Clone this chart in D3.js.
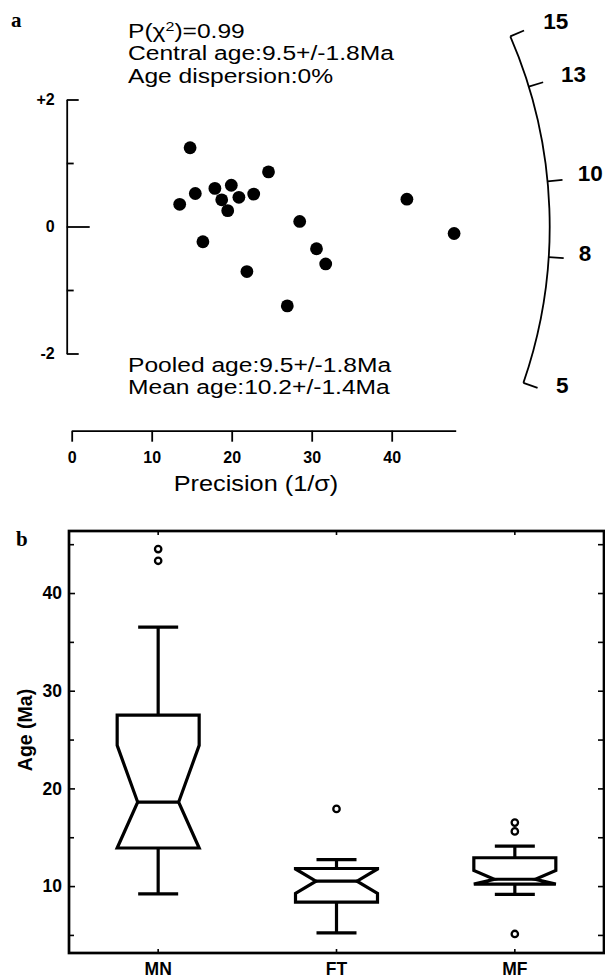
<!DOCTYPE html>
<html>
<head>
<meta charset="utf-8">
<script src="https://cdn.jsdelivr.net/npm/d3@7"></script>
<style>
  body { margin: 0; background: #fff; }
  svg { display: block; font-family: "Liberation Sans", Arial, Helvetica, sans-serif; }
</style>
</head>
<body>
<svg id="chart" width="605" height="978"></svg>
<script>
// ---- panel a : radial plot ----
const precision = [14.8, 13.5, 15.45, 16.4, 17.9, 18.75, 19.95, 19.5, 20.9, 22.75, 24.6, 21.9, 28.5, 26.95, 30.6, 31.75, 41.9, 47.8];
const zScore = [1.24, 0.35, 0.52, -0.24, 0.6, 0.42, 0.65, 0.25, 0.46, 0.51, 0.86, -0.71, 0.08, -1.25, -0.35, -0.59, 0.43, -0.11];
const precisionTicks = [0, 10, 20, 30, 40];
const zTicks = [-2, -1, 0, 1, 2];
const arcAges = [5, 8, 10, 13, 15];
const arcRefAge = 8.78;     // age of the horizontal ray
const arcSlopeK = 0.06;     // slope per sqrt(Ma)
const topText = ['Central age:9.5+/-1.8Ma', 'Age dispersion:0%'];
const bottomText = ['Pooled age:9.5+/-1.8Ma', 'Mean age:10.2+/-1.4Ma'];

// ---- panel b : notched box plots ----
const categories = ['MN', 'FT', 'MF'];
const whiskerLow = [9.2, 5.2, 9.15];
const q1 = [13.9, 8.35, 10.2];
const median = [18.6, 10.5, 10.7];
const q3 = [27.5, 11.8, 12.9];
const whiskerHigh = [36.5, 12.7, 14.1];
const notchHalf = [5.8, 1.25, 0.9];
const outliers = [[44.5, 43.3], [17.9], [16.5, 15.6, 5.1]];
const ageTicks = [10, 20, 30, 40];
const ageMinorTicks = [5, 15, 25, 35, 45];

const svg = d3.select('#chart');
const wide = 'scale(1.23,1)';   // the source font runs wider than Liberation Sans
const statSize = 20, statLead = 22.3;

// panel a
const rx = d3.scaleLinear().domain([0, 48]).range([71.7, 455.7]);
const ry = d3.scaleLinear().domain([-2, 2]).range([353.5, 99.5]);

svg.append('text')
    .attr('x', 11).attr('y', 27)
    .attr('font-family', '"Liberation Serif", "Times New Roman", serif')
    .attr('font-weight', 'bold').attr('font-size', 21)
    .text('a');

const head = svg.append('text')
    .attr('transform', 'translate(128,38) ' + wide)
    .attr('font-size', statSize);
head.append('tspan').text('P(\u03c7');
head.append('tspan').attr('font-size', 13).attr('dy', -7).text('2');
head.append('tspan').attr('dy', 7).text(')=0.99');

svg.selectAll('.top-line').data(topText).enter().append('text')
    .attr('class', 'top-line')
    .attr('transform', (d, i) => `translate(128,${38 + (i + 1) * statLead}) ${wide}`)
    .attr('font-size', statSize)
    .text(d => d);

svg.selectAll('.bottom-line').data(bottomText).enter().append('text')
    .attr('class', 'bottom-line')
    .attr('transform', (d, i) => `translate(128,${372 + i * statLead}) ${wide}`)
    .attr('font-size', statSize)
    .text(d => d);

// y axis (standardised estimate), ticks pointing right
const yAxisA = svg.append('g')
    .attr('transform', 'translate(66.7,0)')
    .call(d3.axisLeft(ry).tickValues(zTicks).tickSizeInner(-7).tickSizeOuter(0).tickPadding(12)
        .tickFormat(d => d === 2 ? '+2' : d === -2 ? '-2' : d === 0 ? '0' : ''));
yAxisA.selectAll('.tick line')
    .attr('x2', d => d === 0 ? 23 : Math.abs(d) === 2 ? 12 : 7);

// x axis (precision)
const xAxisA = svg.append('g')
    .attr('transform', 'translate(0,430.7)')
    .call(d3.axisBottom(rx).tickValues(precisionTicks).tickSizeInner(11).tickSizeOuter(0).tickPadding(10));

[yAxisA, xAxisA].forEach(g => {
    g.attr('font-family', null).attr('font-size', null);
    g.selectAll('path, line').attr('stroke', '#000').attr('stroke-width', 1.8);
    g.selectAll('text').attr('font-size', 16).attr('font-weight', 'bold').attr('fill', '#000');
});

svg.append('text')
    .attr('transform', 'translate(256,491) scale(1.15,1)')
    .attr('text-anchor', 'middle')
    .attr('font-size', 22)
    .text('Precision (1/\u03c3)');

svg.selectAll('.dot').data(precision).enter().append('circle')
    .attr('class', 'dot')
    .attr('cx', d => rx(d))
    .attr('cy', (d, i) => ry(zScore[i]))
    .attr('r', 6.4)
    .attr('fill', '#000');

// age arc
const ox = rx(0), oy = ry(0), R = 478;
const pxPerX = rx(1) - rx(0), pxPerY = ry(0) - ry(1);
function ageAngle(t) {
    const s = arcSlopeK * (Math.sqrt(t) - Math.sqrt(arcRefAge));
    return Math.atan(s * pxPerY / pxPerX);   // upward angle, radians
}
const arcPath = d3.path();
arcPath.arc(ox, oy, R, -ageAngle(d3.max(arcAges)), -ageAngle(d3.min(arcAges)), false);
svg.append('path')
    .attr('d', arcPath.toString())
    .attr('fill', 'none').attr('stroke', '#000').attr('stroke-width', 1.8);

const arcTick = svg.selectAll('.arc-tick').data(arcAges).enter().append('g').attr('class', 'arc-tick');
arcTick.append('line')
    .attr('x1', d => ox + R * Math.cos(ageAngle(d)))
    .attr('y1', d => oy - R * Math.sin(ageAngle(d)))
    .attr('x2', d => ox + (R + 15) * Math.cos(ageAngle(d)))
    .attr('y2', d => oy - (R + 15) * Math.sin(ageAngle(d)))
    .attr('stroke', '#000').attr('stroke-width', 1.8);
arcTick.append('text')
    .attr('x', d => ox + (R + 24) * Math.cos(ageAngle(d)) + 5 + 15 * Math.abs(Math.sin(ageAngle(d))))
    .attr('y', d => oy - (R + 24) * Math.sin(ageAngle(d)) - 6)
    .attr('dy', '0.36em')
    .attr('font-size', 22.5).attr('font-weight', 'bold')
    .text(d => d);

// panel b
const bx = d3.scaleBand().domain(categories).range([69, 604]);
const by = d3.scaleLinear().domain([3.15, 46.35]).range([953, 531]);
const boxHalf = 41, notchInner = 20.5, capHalf = 20;

svg.append('text')
    .attr('x', 16).attr('y', 546)
    .attr('font-family', '"Liberation Serif", "Times New Roman", serif')
    .attr('font-weight', 'bold').attr('font-size', 21)
    .text('b');

svg.append('text')
    .attr('transform', 'translate(32,730) rotate(-90)')
    .attr('text-anchor', 'middle')
    .attr('font-size', 19.5).attr('font-weight', 'bold')
    .text('Age (Ma)');

const axesB = [];
axesB.push(svg.append('g').attr('transform', 'translate(69,0)')
    .call(d3.axisLeft(by).tickValues(ageTicks).tickSizeInner(-6).tickSizeOuter(0).tickPadding(7)));
axesB.push(svg.append('g').attr('transform', 'translate(69,0)')
    .call(d3.axisLeft(by).tickValues(ageMinorTicks).tickSizeInner(-5).tickSizeOuter(0).tickFormat('')));
axesB.push(svg.append('g').attr('transform', 'translate(604,0)')
    .call(d3.axisRight(by).tickValues(ageTicks.concat(ageMinorTicks)).tickSizeInner(-6).tickSizeOuter(0).tickFormat('')));
axesB.push(svg.append('g').attr('transform', 'translate(0,953)')
    .call(d3.axisBottom(bx).tickSizeInner(-4).tickSizeOuter(0).tickPadding(10)));
axesB.push(svg.append('g').attr('transform', 'translate(0,531)')
    .call(d3.axisTop(bx).tickSizeInner(-4).tickSizeOuter(0).tickFormat('')));
axesB.forEach(g => {
    g.attr('font-family', null).attr('font-size', null);
    g.select('.domain').remove();
    g.selectAll('line').attr('stroke', '#000').attr('stroke-width', 1.6);
    g.selectAll('text').attr('font-size', 17.5).attr('font-weight', 'bold').attr('fill', '#000');
});

svg.append('rect')
    .attr('x', bx.range()[0]).attr('y', by.range()[1])
    .attr('width', bx.range()[1] - bx.range()[0])
    .attr('height', by.range()[0] - by.range()[1])
    .attr('fill', 'none').attr('stroke', '#000').attr('stroke-width', 2.7);

const boxes = svg.selectAll('.box').data(categories).enter().append('g')
    .attr('class', 'box')
    .attr('fill', 'none').attr('stroke', '#000').attr('stroke-width', 3.2)
    .attr('stroke-linejoin', 'miter');

const cxOf = d => bx(d) + bx.bandwidth() / 2;

boxes.append('path')
    .attr('d', (d, i) => {
        const c = cxOf(d);
        const nh = Math.min(median[i] + notchHalf[i], q3[i]);
        const nl = Math.max(median[i] - notchHalf[i], q1[i]);
        const p = d3.path();
        p.moveTo(c - boxHalf, by(q3[i]));
        p.lineTo(c + boxHalf, by(q3[i]));
        p.lineTo(c + boxHalf, by(nh));
        p.lineTo(c + notchInner, by(median[i]));
        p.lineTo(c + boxHalf, by(nl));
        p.lineTo(c + boxHalf, by(q1[i]));
        p.lineTo(c - boxHalf, by(q1[i]));
        p.lineTo(c - boxHalf, by(nl));
        p.lineTo(c - notchInner, by(median[i]));
        p.lineTo(c - boxHalf, by(nh));
        p.closePath();
        return p.toString();
    });

boxes.append('line')
    .attr('x1', d => cxOf(d) - notchInner).attr('x2', d => cxOf(d) + notchInner)
    .attr('y1', (d, i) => by(median[i])).attr('y2', (d, i) => by(median[i]));

// whiskers and caps
boxes.append('line')
    .attr('x1', cxOf).attr('x2', cxOf)
    .attr('y1', (d, i) => by(q3[i])).attr('y2', (d, i) => by(whiskerHigh[i]));
boxes.append('line')
    .attr('x1', cxOf).attr('x2', cxOf)
    .attr('y1', (d, i) => by(q1[i])).attr('y2', (d, i) => by(whiskerLow[i]));
boxes.append('line')
    .attr('x1', d => cxOf(d) - capHalf).attr('x2', d => cxOf(d) + capHalf)
    .attr('y1', (d, i) => by(whiskerHigh[i])).attr('y2', (d, i) => by(whiskerHigh[i]));
boxes.append('line')
    .attr('x1', d => cxOf(d) - capHalf).attr('x2', d => cxOf(d) + capHalf)
    .attr('y1', (d, i) => by(whiskerLow[i])).attr('y2', (d, i) => by(whiskerLow[i]));

boxes.each(function(d, i) {
    d3.select(this).selectAll('circle').data(outliers[i]).enter().append('circle')
        .attr('cx', cxOf(d))
        .attr('cy', v => by(v))
        .attr('r', 3.2)
        .attr('fill', '#fff')
        .attr('stroke-width', 2.3);
});
</script>
</body>
</html>
